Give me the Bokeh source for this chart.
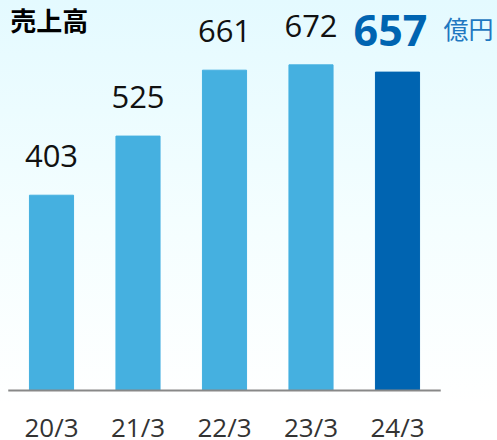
from bokeh.plotting import figure
from bokeh.models import ColumnDataSource, Range1d
from bokeh.core.properties import value
from bokeh.embed import file_html
from bokeh.resources import INLINE

# data
periods = ["20/3", "21/3", "22/3", "23/3", "24/3"]
sales = [403, 525, 661, 672, 657]
title_text = "売上高"
unit_text = "億円"

LIGHT = "#45B0E0"
DARK = "#0064B1"

n = len(periods)
xs = list(range(n))
colors = [LIGHT] * (n - 1) + [DARK]

src = ColumnDataSource(dict(x=xs, top=sales, color=colors, period=periods,
                            zero=[0] * n))
prev = ColumnDataSource(dict(x=xs[:-1], top=sales[:-1],
                             label=[str(v) for v in sales[:-1]]))
last = ColumnDataSource(dict(x=xs[-1:], top=sales[-1:],
                             label=[str(v) for v in sales[-1:]]))

# layout: one category slot = 86.5 px, plot 497 x 440, zero line at 390 px
slot = 86.5
x0 = -0.5 - 7.75 / slot
x1 = x0 + 497 / slot
ppu = 0.4846
y0 = -50 / ppu
y1 = y0 + 440 / ppu

p = figure(width=497, height=440, x_range=Range1d(x0, x1),
           y_range=Range1d(y0, y1), output_backend="svg",
           toolbar_location=None, x_axis_location=None, y_axis_location=None,
           min_border=0)
p.background_fill_color = None
p.border_fill_color = None
p.outline_line_color = None
p.styles = {"background": "linear-gradient(to bottom, #E4FAFF 0%, #F4FEFF 50%, #FFFFFF 92%)"}
p.xgrid.visible = False
p.ygrid.visible = False

p.vbar(x="x", top="top", width=0.51, color="color", source=src)

# baseline
p.segment(x0=[-0.5], y0=[0], x1=[n - 0.5], y1=[0], line_color="#888888",
          line_width=2)

# category labels
p.text(x="x", y="zero", text="period", source=src, text_align="center",
       text_baseline="alphabetic", y_offset=36, text_font=value("Open Sans"),
       text_font_size="26px", text_color="#333333")

p.text(x="x", y="top", text="label", source=prev, text_align="center",
       text_baseline="alphabetic", y_offset=-39, text_font=value("Open Sans"),
       text_font_size="31px", text_color="#111111")
p.text(x="x", y="top", text="label", source=last, text_align="center",
       text_baseline="alphabetic", y_offset=-42, x_offset=-7,
       text_font=value("Open Sans"), text_font_style="bold",
       text_font_size="43px", text_color=DARK)

p.text(x=[xs[-1]], y=[sales[-1]], text=[unit_text], x_offset=46, y_offset=-44,
       text_baseline="alphabetic", text_font=value("Noto Sans CJK JP"),
       text_font_size="25px", text_color="#1F78C1")

p.text(x=[-0.5], y=[y1], text=[title_text], x_offset=2, y_offset=19,
       text_baseline="alphabetic", text_font=value("Noto Sans CJK JP"),
       text_font_style="bold", text_font_size="26px", text_color="#000000")

open("out.html", "w").write(file_html(p, INLINE))
